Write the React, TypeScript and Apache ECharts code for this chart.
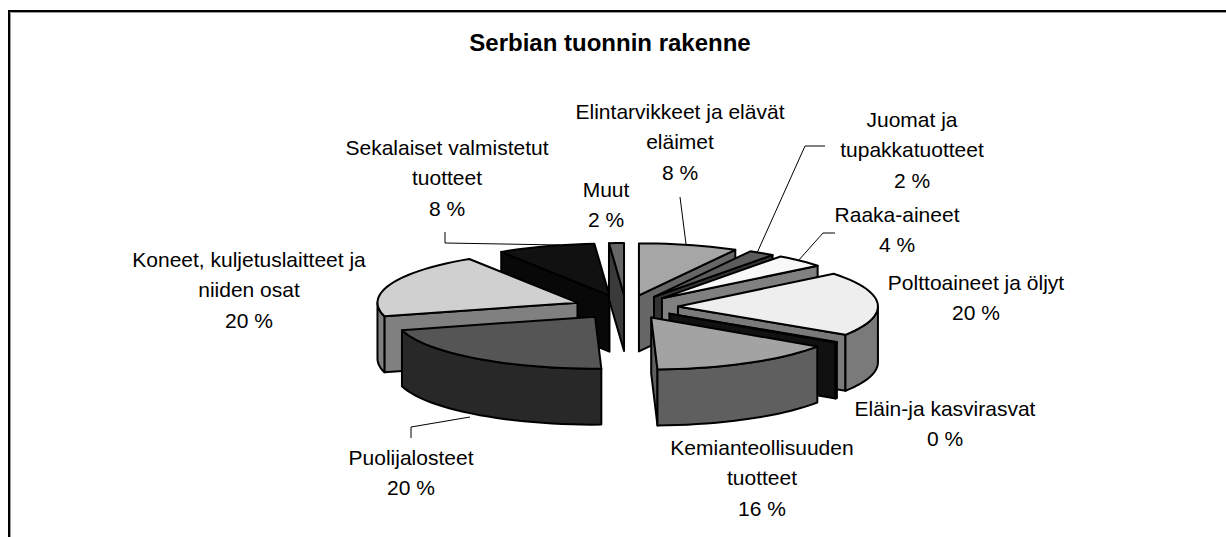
import React, { useEffect, useRef } from "react";
import * as echarts from "echarts";

const titleText = "Serbian tuonnin rakenne";
const categories = ["Elintarvikkeet ja elävät eläimet", "Juomat ja tupakkatuotteet", "Raaka-aineet", "Polttoaineet ja öljyt", "Eläin-ja kasvirasvat", "Kemianteollisuuden tuotteet", "Puolijalosteet", "Koneet, kuljetuslaitteet ja niiden osat", "Sekalaiset valmistetut tuotteet", "Muut"];
const shares = [8.0, 2.1, 4.1, 20.0, 0.2, 15.1, 21.3, 20.1, 7.9, 1.2];
const percentLabels = ["8 %", "2 %", "4 %", "20 %", "0 %", "16 %", "20 %", "20 %", "8 %", "2 %"];
const labelLines = [
  ["Elintarvikkeet ja elävät", "eläimet"],
  ["Juomat ja", "tupakkatuotteet"],
  ["Raaka-aineet"],
  ["Polttoaineet ja öljyt"],
  ["Eläin-ja kasvirasvat"],
  ["Kemianteollisuuden", "tuotteet"],
  ["Puolijalosteet"],
  ["Koneet, kuljetuslaitteet ja", "niiden osat"],
  ["Sekalaiset valmistetut", "tuotteet"],
  ["Muut"],
];
const labelAnchors = [[680, 111], [912, 119], [897, 214], [976, 282], [945, 408], [762, 447], [411, 457], [249, 259], [447, 147], [606, 189]];
const topColors = ["#a6a6a6", "#5c5c5c", "#f8f8f8", "#eeeeee", "#1c1c1c", "#a3a3a3", "#555555", "#d0d0d0", "#111111", "#666666"];
const rimColors = ["#666666", "#333333", "#808080", "#7a7a7a", "#111111", "#5f5f5f", "#282828", "#808080", "#080808", "#3a3a3a"];
const paintOrder = [8, 9, 0, 1, 2, 7, 3, 4, 5, 6];
const leaders = [
  [[680, 197], [686, 244]],
  [[825, 146], [805, 146], [757, 253]],
  [[835, 233], [823, 233], [798, 261]],
  [[445, 232], [445, 243], [560, 245]],
  [[411, 438], [411, 427], [470, 417]],
];

const CX = 626, CY = 307, RX = 200, RY = 52, DEPTH = 56, OFF_X = 52, OFF_Y = 12;
const total = shares.reduce((a, b) => a + b, 0);
const starts: number[] = [];
shares.reduce((acc, v, i) => { starts[i] = acc; return acc + v; }, 0);

function renderSlice(params: any, api: any) {
  const i = api.value(0);
  const a0 = (starts[i] / total) * Math.PI * 2;
  const a1 = ((starts[i] + shares[i]) / total) * Math.PI * 2;
  const mid = (a0 + a1) / 2;
  const ax = CX + OFF_X * Math.sin(mid);
  const ay = CY - OFF_Y * Math.cos(mid);
  const pt = (a: number, d = 0): number[] => [ax + RX * Math.sin(a), ay - RY * Math.cos(a) + d];
  const sweep = (from: number, to: number) => {
    const n = Math.max(2, Math.ceil((to - from) / 0.05));
    const out: number[][] = [];
    for (let k = 0; k <= n; k++) out.push(pt(from + ((to - from) * k) / n));
    return out;
  };
  const stroke = { stroke: "#000", lineWidth: 2, lineJoin: "round" };
  const poly = (points: number[][], fill: string) => ({ type: "polygon", shape: { points }, style: { fill, ...stroke } });
  const apexB = [ax, ay + DEPTH];
  const children: any[] = [];
  // only the faces turned towards the viewer
  if (Math.sin(a0) < -1e-6) children.push(poly([[ax, ay], pt(a0), pt(a0, DEPTH), apexB], rimColors[i]));
  if (Math.sin(a1) > 1e-6) children.push(poly([[ax, ay], pt(a1), pt(a1, DEPTH), apexB], rimColors[i]));
  const f0 = Math.max(a0, Math.PI / 2);
  const f1 = Math.min(a1, (3 * Math.PI) / 2);
  if (f1 > f0) {
    const front = sweep(f0, f1);
    children.push(poly([...front, ...front.map((p) => [p[0], p[1] + DEPTH]).reverse()], rimColors[i]));
  }
  children.push(poly([[ax, ay], ...sweep(a0, a1)], topColors[i]));
  return { type: "group", children };
}

export default function App() {
  const ref = useRef<HTMLDivElement>(null);
  useEffect(() => {
    document.body.style.margin = "0";
    const chart = echarts.init(ref.current!, null, { renderer: "svg" });
    const font = "'Liberation Sans', Arial, sans-serif";
    const LINE = 30.5;
    const texts: any[] = [];
    categories.forEach((_, i) => {
      const [x, y] = labelAnchors[i];
      [...labelLines[i], percentLabels[i]].forEach((line, k) => {
        texts.push({
          type: "text", x, y: y + k * LINE,
          style: { text: line, fill: "#000", font: `21px ${font}`, textAlign: "center", textVerticalAlign: "middle" },
        });
      });
    });
    const lines = leaders.map((points) => ({
      type: "polyline", shape: { points }, style: { stroke: "#000", lineWidth: 1, fill: "none" },
    }));
    chart.setOption({
      animation: false,
      backgroundColor: "#fff",
      title: {
        text: titleText, left: 605, top: 25, textAlign: "center",
        textStyle: { fontFamily: font, fontSize: 24, fontWeight: "bold", color: "#000" },
      },
      series: [{
        type: "custom",
        coordinateSystem: "none",
        silent: true,
        clip: false,
        renderItem: renderSlice,
        data: paintOrder.map((i) => [i, shares[i]]),
      }],
      graphic: [
        {
          type: "polyline", z: 9,
          shape: { points: [[10.5, 537], [10.5, 12.5], [1226, 12.5]] },
          style: { stroke: "#999", lineWidth: 1, fill: "none" },
        },
        {
          type: "polyline", z: 10,
          shape: { points: [[9, 537], [9, 11], [1226, 11]] },
          style: { stroke: "#000", lineWidth: 2, fill: "none" },
        },
        ...lines,
        ...texts,
      ],
    });
    return () => chart.dispose();
  }, []);
  return <div ref={ref} style={{ width: 1226, height: 537 }} />;
}
